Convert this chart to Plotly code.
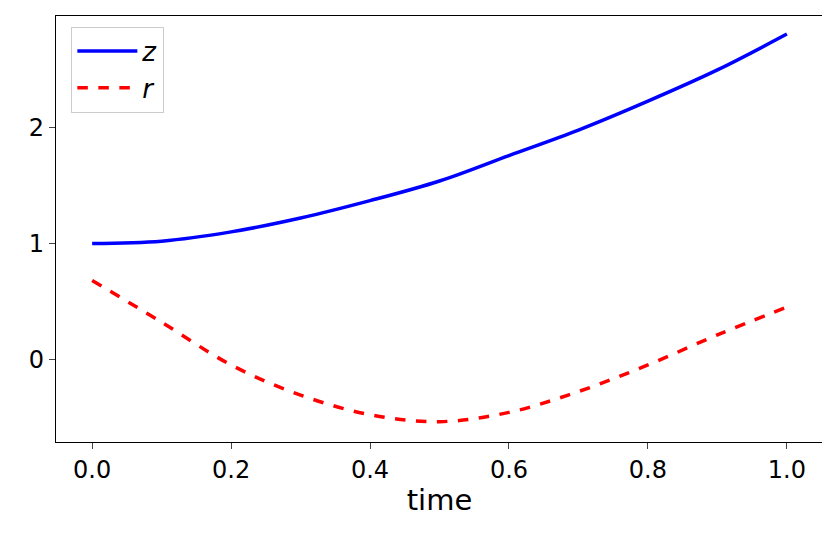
import plotly.graph_objects as go

t = [0.0, 0.1, 0.2, 0.3, 0.4, 0.5, 0.6, 0.7, 0.8, 0.9, 1.0]
z = [1.00, 1.02, 1.10, 1.22, 1.37, 1.54, 1.76, 1.98, 2.23, 2.50, 2.81]
r = [0.68, 0.32, -0.05, -0.31, -0.48, -0.54, -0.46, -0.28, -0.05, 0.21, 0.45]

fig = go.Figure()
fig.add_trace(go.Scatter(x=t, y=z, mode='lines', name='<i>z</i>', line=dict(color='blue', width=3.5, shape='spline')))
fig.add_trace(go.Scatter(x=t, y=r, mode='lines', name='<i>r</i>', line=dict(color='red', width=3.5, dash='dash', shape='spline')))

fig.update_layout(
    width=830, height=542,
    paper_bgcolor='white', plot_bgcolor='white',
    margin=dict(l=48, r=15, t=8, b=108),
    font=dict(family='DejaVu Sans', size=24, color='black'),
    showlegend=True,
    legend=dict(x=0.02, y=0.975, xanchor='left', yanchor='top', bordercolor='#cccccc', borderwidth=1,
                bgcolor='white', font=dict(size=26), itemwidth=60, tracegroupgap=12),
    xaxis=dict(title=dict(text='time', standoff=6), range=[-0.052, 1.052], tickvals=[0, 0.2, 0.4, 0.6, 0.8, 1.0],
               ticktext=['0.0', '0.2', '0.4', '0.6', '0.8', '1.0'], showgrid=False, zeroline=False,
               showline=True, mirror=True, linecolor='black', linewidth=1.2, ticks='outside', ticklen=6,
               automargin=False),
    yaxis=dict(range=[-0.716, 2.966], tickvals=[0, 1, 2], showgrid=False, zeroline=False,
               showline=True, mirror=True, linecolor='black', linewidth=1.2, ticks='outside', ticklen=6,
               automargin=False),
)

fig.write_html("out.html")
